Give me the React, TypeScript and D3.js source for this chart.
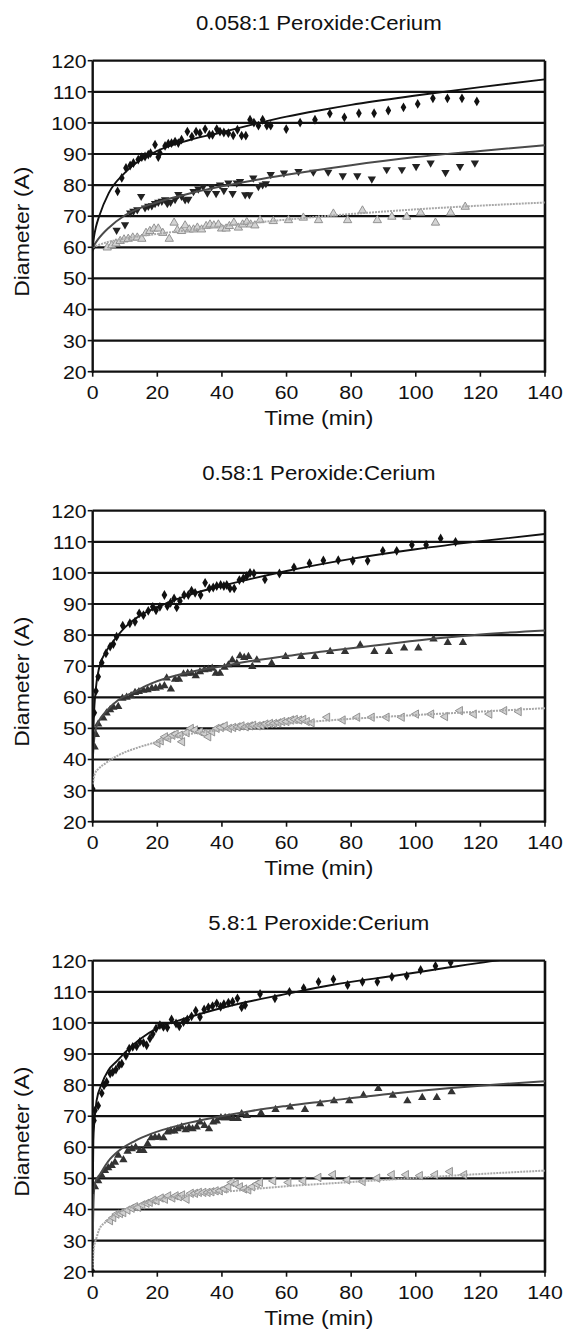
import React from "react";
import * as d3 from "d3";

type P = [number, number];

const TIME_TICKS = [0, 20, 40, 60, 80, 100, 120, 140];
const DIAM_TICKS = [20, 30, 40, 50, 60, 70, 80, 90, 100, 110, 120];
const TITLES = ["0.058:1 Peroxide:Cerium", "0.58:1 Peroxide:Cerium", "5.8:1 Peroxide:Cerium"];
const X_LABEL = "Time (min)";
const Y_LABEL = "Diameter (A)";

// ---------- Panel 1 (0.058:1) ----------
const p1Top: P[] = [[0,60],[7.7,78.0],[9.0,82.3],[10.3,85.5],[11.6,86.3],[12.6,87.1],[14.1,88.2],[15.2,89.0],[16.2,89.2],[17.2,89.8],[17.9,90.3],[19.3,93.0],[20.3,89.0],[20.8,90.3],[22.4,92.6],[23.4,93.3],[24.4,93.5],[25.5,94.0],[26.5,93.5],[27.5,94.6],[29.3,97.2],[30.7,95.6],[32.0,97.2],[33.2,96.7],[34.8,98.0],[36.1,96.2],[37.1,96.2],[38.4,98.0],[39.4,97.2],[40.6,96.9],[42.0,96.7],[43.5,96.0],[44.8,97.8],[46.1,95.9],[47.4,95.9],[48.7,101.0],[49.9,100.1],[51.3,99.1],[52.6,101.0],[53.9,99.1],[55.1,99.1],[59.9,98.0],[64.2,100.1],[68.8,101.0],[73.4,103.0],[77.9,101.8],[82.4,103.1],[87.1,103.1],[91.5,104.0],[96.2,105.0],[100.6,106.1],[105.3,107.9],[109.8,107.9],[114.3,107.9],[118.9,106.9]];
const p1Mid: P[] = [[7.4,65.5],[10.0,67.3],[11.6,71.1],[12.6,71.6],[13.8,72.1],[15.0,76.4],[16.2,72.7],[17.2,73.2],[18.3,73.4],[19.3,74.1],[20.3,74.5],[21.4,74.8],[22.4,75.3],[23.1,74.1],[24.1,74.5],[25.5,75.4],[26.5,77.0],[27.5,76.4],[28.6,75.3],[29.6,75.5],[31.2,78.0],[32.7,78.8],[34.2,79.6],[35.5,77.5],[36.8,79.6],[38.2,77.3],[39.4,80.1],[40.6,78.3],[42.0,80.7],[43.3,77.3],[44.6,80.7],[45.6,81.2],[47.2,76.9],[48.5,76.9],[49.7,82.3],[51.3,79.6],[52.6,80.1],[53.6,80.5],[55.1,83.4],[59.2,83.9],[63.7,84.4],[68.3,84.2],[72.9,84.2],[77.4,83.0],[81.9,83.0],[86.4,82.0],[91.0,85.0],[95.7,85.0],[100.1,86.0],[104.6,87.1],[109.2,84.1],[113.7,86.0],[118.3,87.1]];
const p1Low: P[] = [[4.5,59.9],[5.9,60.6],[7.2,61.2],[8.5,62.0],[9.7,62.5],[11.0,62.7],[12.4,63.1],[13.8,63.1],[15.2,62.7],[16.5,64.6],[17.7,65.2],[19.0,66.0],[20.3,66.0],[21.7,64.6],[23.7,62.7],[25.2,67.9],[26.2,65.5],[27.5,65.2],[28.6,67.0],[29.9,65.7],[31.2,65.7],[32.4,66.3],[33.7,65.7],[35.1,66.8],[36.3,67.3],[37.5,67.0],[38.9,67.3],[39.9,66.0],[41.3,66.0],[42.3,66.8],[43.7,67.9],[45.1,66.3],[46.4,67.3],[47.7,68.1],[48.9,67.3],[50.2,67.0],[51.8,68.7],[55.9,68.4],[60.6,68.7],[65.2,69.5],[69.9,68.7],[74.5,70.8],[78.9,68.7],[83.5,71.8],[88.1,68.7],[92.6,69.8],[97.2,69.8],[101.5,71.1],[106.1,67.9],[110.8,71.1],[115.3,73.0]];
const p1TopFit: P[] = [[0,60],[0.5,64],[1,66.5],[2,70],[5,77.5],[10,84],[20,91],[30,94.5],[40,97],[50,99.6],[60,102],[70,104],[80,105.8],[100,108.8],[120,111.5],[140,114]];
const p1MidFit: P[] = [[0,60],[2,63],[5,66.3],[10,70.3],[20,74.5],[30,77.3],[40,79.6],[60,83.3],[80,86.4],[100,89],[120,91],[140,92.8]];
const p1LowFit: P[] = [[0,60],[2,60.8],[5,61.8],[10,62.8],[20,64.3],[30,65.6],[40,66.8],[60,68.9],[80,70.7],[100,72.2],[120,73.4],[140,74.4]];

// ---------- Panel 2 (0.58:1) ----------
const p2Top: P[] = [[0,30.5],[0.5,55],[1.0,62],[1.7,66.6],[2.8,71.1],[4.1,74.1],[5.4,76.3],[6.4,77.1],[7.4,79.5],[9.3,83.0],[11.5,83.8],[13.1,84.3],[14.4,87.0],[15.7,86.4],[17.2,87.8],[18.6,89.1],[19.6,88.0],[20.8,89.1],[22.2,92.9],[23.1,89.3],[24.1,90.4],[25.2,91.8],[26.0,88.9],[27.0,91.0],[28.3,92.9],[29.6,92.9],[30.6,94.3],[31.7,93.6],[33.4,92.9],[34.8,96.8],[36.1,95.0],[37.3,95.3],[38.4,95.8],[39.6,96.1],[40.6,95.8],[41.5,96.1],[42.5,95.0],[43.8,95.0],[45.4,97.7],[46.6,98.2],[47.7,99.0],[48.7,100.0],[49.9,99.8],[53.3,97.9],[57.8,99.8],[62.3,101.8],[67.1,103.1],[71.4,104.0],[76.0,104.1],[80.5,103.9],[85.1,103.9],[89.8,107.1],[94.1,107.1],[98.8,109.0],[103.2,109.0],[107.7,111.1],[112.3,110.0]];
const p2Mid: P[] = [[0.6,44],[1.0,48],[1.7,51.4],[3.3,53.3],[4.3,54.9],[5.4,56.0],[6.4,56.8],[7.9,57.0],[9.2,59.7],[10.5,60.0],[11.9,60.5],[13.1,61.5],[14.3,61.8],[15.7,62.2],[17.0,62.4],[18.3,62.9],[19.5,62.9],[20.8,63.3],[22.2,63.7],[22.9,66.2],[24.2,62.6],[25.5,65.8],[26.7,65.8],[28.1,67.5],[29.4,67.7],[30.6,67.7],[31.9,66.9],[33.2,68.2],[34.6,68.8],[35.8,69.0],[37.0,69.3],[38.1,67.7],[39.4,67.7],[40.8,69.6],[42.0,70.4],[43.2,72.0],[44.6,70.9],[45.6,73.3],[46.9,72.8],[48.2,73.1],[49.4,69.9],[50.8,72.0],[55.4,70.9],[59.7,73.1],[64.5,73.1],[68.8,73.1],[73.5,74.7],[78.1,74.7],[82.8,76.8],[87.2,74.7],[91.7,74.7],[96.4,75.8],[100.8,75.8],[105.5,78.7],[109.9,77.6],[114.6,77.6]];
const p2Low: P[] = [[20.1,45.2],[21.1,46.0],[22.4,47.3],[23.4,46.8],[24.7,47.8],[25.7,48.2],[27.0,47.8],[27.7,45.7],[29.1,48.6],[30.4,50.0],[31.7,49.5],[33.2,48.9],[34.6,48.4],[35.8,47.3],[37.0,48.9],[38.4,50.0],[39.7,50.3],[40.9,50.8],[42.2,50.0],[43.5,50.3],[44.9,50.5],[46.1,50.8],[47.4,50.5],[48.7,50.8],[49.7,51.0],[51.1,50.8],[52.3,51.0],[53.5,51.4],[54.9,51.6],[56.2,51.6],[57.5,51.8],[58.7,52.2],[60.0,52.2],[61.4,52.7],[62.6,52.9],[63.9,52.7],[65.2,52.9],[66.3,52.2],[67.8,51.8],[72.6,53.6],[77.4,52.7],[81.9,53.6],[86.4,53.6],[91.0,53.6],[95.7,53.6],[100.1,54.6],[104.8,54.6],[109.1,53.8],[113.7,55.7],[118.0,54.6],[122.8,54.6],[127.4,55.7],[131.9,55.4]];
const p2TopFit: P[] = [[0,40],[0.3,52],[1,63],[2,69.5],[4,74.5],[6,77.5],[10,82.5],[15,86.5],[20,89],[30,93],[40,95.8],[50,98.3],[60,100.6],[80,104.5],[100,107.6],[120,110.2],[140,112.5]];
const p2MidFit: P[] = [[0,40],[0.5,47],[1,50],[2,52.5],[4,55.3],[8,59.2],[13,61.8],[18,64.4],[28,67.6],[40,70],[50,71.8],[60,73.3],[72,74.8],[90,77],[106,78.9],[120,80.2],[140,81.5]];
const p2LowFit: P[] = [[0,32],[0.7,35.5],[2,37.2],[4,38.8],[8,41.4],[13,43.5],[18,45.1],[28,47.8],[39,49.4],[50,50.7],[60,51.5],[72,52.5],[100,54.3],[120,55.4],[140,56.5]];

// ---------- Panel 3 (5.8:1) ----------
const p3Top: P[] = [[0,20],[0.4,68.6],[0.7,71.8],[1.7,73.4],[2.8,77.4],[3.5,79.9],[4.3,81.0],[5.4,83.7],[6.2,84.2],[7.2,85.0],[8.2,86.4],[9.0,86.9],[10.3,89.4],[11.3,91.7],[12.4,92.3],[13.6,92.5],[14.6,93.9],[15.7,93.6],[16.7,92.8],[17.7,95.0],[18.6,96.4],[19.6,98.2],[20.8,99.3],[21.9,98.7],[23.1,98.5],[24.4,101.1],[25.8,99.8],[26.8,98.9],[28.1,100.3],[29.3,101.1],[30.6,102.1],[31.9,103.9],[33.2,101.9],[34.5,104.3],[35.8,105.0],[37.1,105.4],[38.4,106.3],[39.6,105.2],[40.6,106.0],[42.0,106.5],[43.3,106.8],[44.8,107.9],[46.1,105.0],[47.2,105.7],[51.8,109.3],[56.4,107.9],[60.9,110.0],[65.3,111.2],[69.9,113.2],[74.5,114.0],[78.9,112.2],[83.5,113.2],[88.1,113.2],[92.6,114.8],[97.2,115.1],[101.5,117.0],[106.1,118.3],[110.8,119.4]];
const p3Mid: P[] = [[0.7,47.3],[1.7,49.2],[2.8,50.9],[3.8,52.5],[4.8,53.4],[5.9,54.1],[6.9,55.2],[7.9,57.4],[9.5,56.0],[10.8,58.7],[12.1,59.5],[13.3,60.0],[14.6,58.9],[15.7,58.9],[17.0,61.1],[18.1,63.0],[19.3,63.2],[20.5,63.2],[21.9,63.0],[23.2,64.9],[24.2,65.2],[25.3,65.2],[26.3,65.9],[27.5,66.5],[28.8,65.6],[29.8,66.3],[30.9,65.9],[32.2,66.5],[33.2,68.1],[34.6,67.0],[36.0,65.9],[37.3,68.1],[38.4,68.4],[39.7,69.5],[41.0,69.5],[42.2,69.5],[43.5,69.2],[44.9,69.2],[46.1,70.8],[47.7,70.2],[52.1,71.0],[56.6,72.1],[61.1,72.9],[65.7,72.1],[70.4,74.0],[74.7,74.9],[79.4,74.9],[83.8,76.7],[88.4,78.9],[92.9,76.7],[97.4,74.9],[102.0,76.0],[106.5,76.0],[111.1,77.8]];
const p3Low: P[] = [[5.4,36.4],[6.4,37.4],[7.4,38.5],[8.5,38.7],[9.5,39.0],[10.8,39.8],[12.1,40.4],[13.1,40.9],[14.1,40.7],[15.4,41.5],[16.7,42.0],[17.7,42.3],[18.8,43.0],[19.8,42.8],[21.1,43.7],[22.4,43.3],[23.4,44.4],[24.7,43.7],[25.7,44.4],[26.7,44.1],[27.7,44.7],[29.1,43.3],[30.4,45.2],[31.7,45.2],[32.9,45.5],[34.3,45.5],[35.6,45.5],[36.8,45.7],[38.1,46.0],[39.4,46.0],[40.8,46.6],[42.0,47.3],[43.0,48.7],[44.3,48.2],[45.6,47.3],[46.9,46.6],[48.2,46.3],[49.4,47.3],[50.8,48.2],[51.8,48.7],[55.9,49.2],[60.6,48.7],[65.2,49.2],[69.9,50.3],[74.4,51.2],[78.8,49.5],[83.6,49.0],[88.1,50.1],[92.6,51.2],[97.0,51.2],[101.3,50.9],[106.0,51.2],[110.6,52.2],[115.0,51.2]];
const p3TopFit: P[] = [[0,45],[0.2,62],[0.5,68],[1.2,75],[2.8,80.4],[4.8,84.7],[7.4,87.6],[10.5,91],[14.7,94.8],[20,98.3],[27,100.9],[37,104],[48,106.8],[58,108.9],[74,112.2],[95,115.4],[110,117.8],[123,119.8],[140,122]];
const p3MidFit: P[] = [[0,30],[0.3,44],[0.7,48.5],[2.3,51.4],[4.8,55.5],[8,58.8],[13,62],[18,64.3],[28,67.4],[39,69.8],[49,71.7],[60,73.3],[72,74.8],[90,77],[110,79],[125,80.2],[140,81.2]];
const p3LowFit: P[] = [[0,21],[0.3,27],[1.2,31],[2,33.5],[4,36],[8,39],[13,41.1],[18,42.7],[28,44.4],[39,45.5],[49,46.5],[60,47.5],[72,48.3],[90,49.5],[110,50.8],[125,51.7],[140,52.5]];

type MarkerKind = "diamond" | "down" | "up" | "left" | "upOpen";
interface SeriesDef { pts: P[]; fit: P[]; marker: MarkerKind; level: 0 | 1 | 2; }

const PANELS: { title: string; series: SeriesDef[] }[] = [
  { title: TITLES[0], series: [
    { pts: p1Low, fit: p1LowFit, marker: "upOpen", level: 2 },
    { pts: p1Mid, fit: p1MidFit, marker: "down", level: 1 },
    { pts: p1Top, fit: p1TopFit, marker: "diamond", level: 0 },
  ]},
  { title: TITLES[1], series: [
    { pts: p2Low, fit: p2LowFit, marker: "left", level: 2 },
    { pts: p2Mid, fit: p2MidFit, marker: "up", level: 1 },
    { pts: p2Top, fit: p2TopFit, marker: "diamond", level: 0 },
  ]},
  { title: TITLES[2], series: [
    { pts: p3Low, fit: p3LowFit, marker: "left", level: 2 },
    { pts: p3Mid, fit: p3MidFit, marker: "up", level: 1 },
    { pts: p3Top, fit: p3TopFit, marker: "diamond", level: 0 },
  ]},
];

const FONT = "'Liberation Sans', Arial, Helvetica, sans-serif";
const LEFT = 92.7;
const RIGHT = 545;
const PANEL_TOP0 = 60.7;
const PANEL_STEP = 450;
const PANEL_H = 311;

const LINE_STYLE = [
  { stroke: "#111", width: 1.9, dash: undefined as string | undefined },
  { stroke: "#4a4a4a", width: 2.0, dash: undefined as string | undefined },
  { stroke: "#a8a8a8", width: 2.0, dash: "2 1" },
];

function SText(props: { x: number; y: number; size: number; sx?: number; anchor?: string; rotate?: number; children: React.ReactNode }) {
  const { x, y, size, sx = 1.1, anchor = "middle", rotate = 0, children } = props;
  return (
    <g transform={`translate(${x},${y}) rotate(${rotate}) scale(${sx},1)`}>
      <text textAnchor={anchor as any} dominantBaseline="central" fontSize={size} fontFamily={FONT} fill="#111">{children}</text>
    </g>
  );
}

function Marker({ kind, cx, cy }: { kind: MarkerKind; cx: number; cy: number }) {
  if (kind === "diamond") {
    const p = d3.symbol().type(d3.symbolDiamond).size(28)();
    return <path d={p || ""} transform={`translate(${cx},${cy})`} fill="#111" />;
  }
  const p = d3.symbol().type(d3.symbolTriangle).size(30)();
  if (kind === "down") return <path d={p || ""} transform={`translate(${cx},${cy}) rotate(180)`} fill="#222" />;
  if (kind === "up") return <path d={p || ""} transform={`translate(${cx},${cy})`} fill="#333" />;
  if (kind === "left") return <path d={p || ""} transform={`translate(${cx},${cy}) rotate(-90)`} fill="#d0d0d0" stroke="#8a8a8a" strokeWidth={0.9} />;
  return <path d={p || ""} transform={`translate(${cx},${cy})`} fill="#d4d4d4" stroke="#8a8a8a" strokeWidth={0.9} />;
}

function Panel({ idx }: { idx: number }) {
  const cfg = PANELS[idx];
  const top = PANEL_TOP0 + idx * PANEL_STEP;
  const bottom = top + PANEL_H;
  const x = d3.scaleLinear().domain([0, 140]).range([LEFT, RIGHT]);
  const y = d3.scaleLinear().domain([20, 120]).range([bottom, top]);
  const line = d3.line<P>().x(d => x(d[0])).y(d => y(d[1])).curve(d3.curveMonotoneX);
  const clipId = `clip${idx}`;
  return (
    <g>
      <defs>
        <clipPath id={clipId}><rect x={LEFT} y={top} width={RIGHT - LEFT} height={PANEL_H} /></clipPath>
      </defs>
      <SText x={(LEFT + RIGHT) / 2} y={top - 37.5} size={19.5} sx={1.14}>{cfg.title}</SText>
      {DIAM_TICKS.map(v => (
        <g key={`g${v}`}>
          <line x1={LEFT} x2={RIGHT} y1={y(v)} y2={y(v)} stroke="#111" strokeWidth={2.2} />
          <line x1={LEFT - 5} x2={LEFT} y1={y(v)} y2={y(v)} stroke="#111" strokeWidth={1.6} />
          <SText x={LEFT - 6} y={y(v) + 0.5} size={18.5} sx={1.15} anchor="end">{v}</SText>
        </g>
      ))}
      <line x1={LEFT} x2={LEFT} y1={top} y2={bottom + 1} stroke="#111" strokeWidth={2.4} />
      <line x1={RIGHT} x2={RIGHT} y1={top} y2={bottom + 1} stroke="#111" strokeWidth={2.6} />
      {TIME_TICKS.map(t => (
        <g key={`t${t}`}>
          <line x1={x(t)} x2={x(t)} y1={bottom} y2={bottom + 5} stroke="#111" strokeWidth={1.6} />
          <SText x={x(t)} y={bottom + 20.5} size={18.5} sx={1.15}>{t}</SText>
        </g>
      ))}
      <SText x={(LEFT + RIGHT) / 2} y={bottom + 47} size={19.5} sx={1.18}>{X_LABEL}</SText>
      <SText x={23} y={top + 171} size={19.5} sx={1.18} rotate={-90}>{Y_LABEL}</SText>
      <g clipPath={`url(#${clipId})`}>
        {cfg.series.map((s, i) => (
          <g key={`s${i}`}>
            {s.pts.map((p, j) => <Marker key={j} kind={s.marker} cx={x(p[0])} cy={y(p[1])} />)}
          </g>
        ))}
        {cfg.series.map((s, i) => {
          const st = LINE_STYLE[s.level];
          return <path key={`f${i}`} d={line(s.fit) || ""} fill="none" stroke={st.stroke} strokeWidth={st.width} strokeDasharray={st.dash} />;
        })}
      </g>
    </g>
  );
}

export default function App() {
  return (
    <svg width={567} height={1330} viewBox="0 0 567 1330" style={{ position: "absolute", left: 0, top: 0, background: "#fff" }}>
      <rect x={0} y={0} width={567} height={1330} fill="#fff" />
      {PANELS.map((_, i) => <Panel key={i} idx={i} />)}
    </svg>
  );
}
